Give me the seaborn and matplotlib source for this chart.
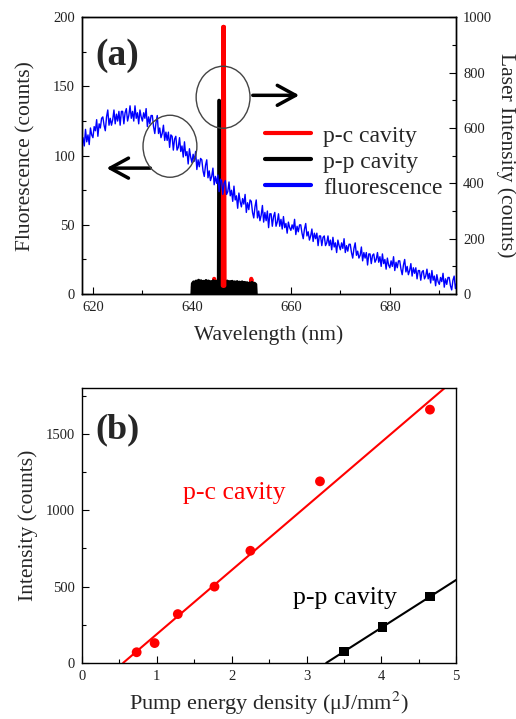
import numpy as np
import matplotlib
matplotlib.use("Agg")
import matplotlib.pyplot as plt
from matplotlib.patches import Ellipse
from matplotlib.lines import Line2D
from matplotlib.ticker import MultipleLocator
import seaborn as sns

# ---- panel (a) data ----
# fluorescence spectrum, 618.0 .. 693.5 nm in 0.25 nm steps
fl_start, fl_step = 618.0, 0.25
fl_counts = [113, 107, 119, 110, 115, 108, 120, 115,
             113, 121, 118, 126, 114, 123, 120, 127,
             128, 122, 118, 128, 133, 122, 127, 122,
             126, 133, 123, 130, 125, 132, 122, 132,
             132, 123, 131, 134, 125, 129, 136, 127,
             132, 125, 136, 127, 131, 123, 133, 128,
             125, 131, 127, 134, 121, 128, 123, 129,
             129, 121, 116, 124, 129, 116, 120, 113,
             116, 122, 111, 117, 111, 117, 106, 115,
             114, 104, 112, 114, 104, 106, 113, 103,
             107, 99, 110, 100, 103, 94, 105, 99,
             95, 101, 96, 103, 90, 97, 92, 98,
             97, 89, 85, 93, 97, 84, 89, 82,
             85, 91, 79, 85, 80, 86, 74, 83,
             82, 72, 80, 82, 72, 74, 81, 71,
             75, 67, 78, 68, 71, 62, 73, 67,
             63, 69, 65, 72, 59, 66, 61, 68,
             67, 59, 55, 63, 68, 55, 60, 53,
             57, 64, 52, 59, 53, 60, 48, 58,
             58, 49, 56, 59, 49, 52, 58, 49,
             54, 47, 56, 48, 51, 44, 52, 48,
             46, 50, 47, 54, 43, 49, 45, 50,
             50, 44, 40, 47, 51, 42, 45, 39,
             42, 47, 38, 44, 40, 44, 35, 42,
             42, 35, 41, 42, 35, 37, 42, 35,
             39, 32, 41, 34, 37, 30, 39, 35,
             32, 37, 33, 40, 30, 35, 31, 36,
             36, 30, 26, 33, 37, 28, 31, 26,
             28, 34, 24, 30, 26, 30, 21, 29,
             29, 22, 28, 29, 23, 25, 30, 23,
             27, 20, 29, 22, 25, 18, 26, 21,
             19, 24, 20, 27, 17, 23, 19, 24,
             24, 18, 14, 21, 25, 16, 20, 14,
             17, 22, 13, 19, 15, 19, 11, 17,
             17, 10, 16, 17, 11, 13, 18, 11,
             15, 8, 17, 10, 13, 6, 14, 9,
             7, 12, 9, 15, 5, 11, 7, 12,
             12, 6, 3, 10, 13, 4, 8]
fl_wl = fl_start + fl_step * np.arange(len(fl_counts))

# p-p cavity laser spectrum
pp_wl = [640.0, 640.1, 640.35, 640.6, 640.85, 641.1, 641.35, 641.6, 641.85, 642.1,
         642.35, 642.6, 642.85, 643.1, 643.35, 643.6, 643.85, 644.1, 644.35, 644.6,
         644.85, 645.1, 645.35, 645.45, 645.55, 645.65, 645.9, 646.15, 646.4, 646.65,
         646.9, 647.15, 647.4, 647.65, 647.9, 648.15, 648.4, 648.65, 648.9, 649.15,
         649.4, 649.65, 649.9, 650.15, 650.4, 650.65, 650.9, 651.15, 651.4, 651.65,
         651.9, 652.15, 652.4, 652.65, 652.9, 653.0]
pp_int = [0, 38, 44, 36, 47, 40, 50, 42, 48, 39,
          46, 41, 49, 43, 47, 38, 45, 40, 48, 42,
          46, 44, 50, 700, 700, 48, 44, 51, 43, 49,
          41, 47, 39, 45, 42, 46, 38, 44, 40, 45,
          37, 43, 39, 44, 36, 42, 38, 41, 35, 40,
          37, 42, 34, 39, 35, 0]

# p-c cavity laser spectrum
pc_wl = [640.2, 644.4, 644.5, 644.6, 646.25, 646.35, 646.45, 646.55, 651.9, 652.0, 652.1, 652.7]
pc_int = [25, 25, 55, 25, 30, 965, 965, 30, 25, 55, 25, 25]

# ---- panel (b) data ----
pc_pump = [0.73, 0.97, 1.28, 1.77, 2.25, 3.18, 4.65]
pc_out = [70, 130, 320, 500, 735, 1190, 1660]
pp_pump = [3.5, 4.02, 4.65]
pp_out = [75, 235, 435]

sns.set_theme(style="ticks")
plt.rcParams["font.family"] = ["Liberation Serif", "DejaVu Serif"]
plt.rcParams["mathtext.fontset"] = "stix"
tick_col = "#222222"

fig = plt.figure(figsize=(5.16, 7.19), dpi=100)
ax1 = fig.add_axes([0.159, 0.591, 0.725, 0.385])
ax1b = ax1.twinx()
ax2 = fig.add_axes([0.159, 0.078, 0.725, 0.382])

# fluorescence (left axis)
sns.lineplot(x=fl_wl, y=fl_counts, ax=ax1, color="#0000ff", lw=1.0)
ax1.set_zorder(ax1b.get_zorder() + 1)
ax1.patch.set_visible(False)

# laser lines (right axis): red baseline below the black block, red peak on top
sns.lineplot(x=pc_wl, y=pc_int, ax=ax1b, color="#ff0000", lw=3, zorder=1)
ax1b.fill_between(pp_wl, 0, pp_int, color="black", lw=0, zorder=2)
sns.lineplot(x=pp_wl, y=pp_int, ax=ax1b, color="black", lw=2.2, zorder=2)
sns.lineplot(x=pc_wl[4:8], y=pc_int[4:8], ax=ax1b, color="#ff0000", lw=3, zorder=3)

ax1.set_xlim(617.8, 693.4)
ax1.set_ylim(0, 200)
ax1b.set_ylim(0, 1000)
ax1.xaxis.set_major_locator(MultipleLocator(20))
ax1.xaxis.set_minor_locator(MultipleLocator(10))
ax1.yaxis.set_major_locator(MultipleLocator(50))
ax1.yaxis.set_minor_locator(MultipleLocator(25))
ax1b.yaxis.set_major_locator(MultipleLocator(200))
ax1b.yaxis.set_minor_locator(MultipleLocator(100))

ax1.set_xlabel("Wavelength (nm)", fontsize=15.5, labelpad=8)
ax1.set_ylabel("Fluorescence (counts)", fontsize=15.5, labelpad=13)
ax1b.set_ylabel("Laser Intensity (counts)", fontsize=15.5, rotation=270, labelpad=17)

ax1.text(0.035, 0.925, "(a)", transform=ax1.transAxes, fontsize=27,
         fontweight="bold", ha="left", va="top")

# circles and arrows
for cx, cy in [(0.377, 0.711), (0.235, 0.534)]:
    ax1.add_patch(Ellipse((cx, cy), 0.144, 0.224, transform=ax1.transAxes,
                          fill=False, ec="#444444", lw=1.0, zorder=5))
arrow_kw = dict(arrowstyle="->,head_length=1.1,head_width=0.6", lw=2.5, color="black")
ax1.annotate("", xy=(0.588, 0.718), xytext=(0.449, 0.718),
             xycoords="axes fraction", arrowprops=arrow_kw)
ax1.annotate("", xy=(0.058, 0.455), xytext=(0.19, 0.455),
             xycoords="axes fraction", arrowprops=arrow_kw)

handles = [Line2D([], [], color="#ff0000", lw=3),
           Line2D([], [], color="black", lw=3),
           Line2D([], [], color="#0000ff", lw=3)]
ax1.legend(handles, ["p-c cavity", "p-p cavity", "fluorescence"], loc="upper left",
           bbox_to_anchor=(0.49, 0.61), frameon=False, fontsize=17,
           handlelength=1.95, handletextpad=0.5, labelspacing=0.185, borderaxespad=0,
           borderpad=0)

# ---- panel (b) ----
pc_fit = np.polyfit(pc_pump, pc_out, 1)
pp_fit = np.polyfit(pp_pump, pp_out, 1)
pc_x = [-pc_fit[1] / pc_fit[0], 5]
pp_x = [-pp_fit[1] / pp_fit[0], 5]
sns.lineplot(x=pc_x, y=np.polyval(pc_fit, pc_x), ax=ax2, color="#ff0000", lw=1.5)
sns.lineplot(x=pp_x, y=np.polyval(pp_fit, pp_x), ax=ax2, color="black", lw=1.5)
sns.scatterplot(x=pc_pump, y=pc_out, ax=ax2, color="#ff0000", marker="o", s=50,
                edgecolor="none", zorder=3)
sns.scatterplot(x=pp_pump, y=pp_out, ax=ax2, color="black", marker="s", s=45,
                edgecolor="none", zorder=3)
ax2.set_xlim(0, 5)
ax2.set_ylim(0, 1800)
ax2.xaxis.set_major_locator(MultipleLocator(1))
ax2.xaxis.set_minor_locator(MultipleLocator(0.5))
ax2.yaxis.set_major_locator(MultipleLocator(500))
ax2.yaxis.set_minor_locator(MultipleLocator(250))
ax2.set_xlabel("Pump energy density (μJ/mm$^2$)", fontsize=16, labelpad=5)
ax2.set_ylabel("Intensity (counts)", fontsize=15.5, labelpad=6)
ax2.text(0.035, 0.91, "(b)", transform=ax2.transAxes, fontsize=26,
         fontweight="bold", ha="left", va="top")
ax2.text(2.03, 1113, "p-c cavity", color="#ff0000", fontsize=18.5, ha="center", va="center")
ax2.text(3.52, 425, "p-p cavity", color="black", fontsize=18.5, ha="center", va="center")

for ax in (ax1, ax1b, ax2):
    for s in ax.spines.values():
        s.set_visible(True)
        s.set_color("black")
        s.set_linewidth(1.0)
    ax.tick_params(which="both", direction="in", labelsize=10.5, labelcolor=tick_col,
                   color="black", width=0.8, pad=5)
    ax.tick_params(which="major", length=5)
    ax.tick_params(which="minor", length=3)
ax1.tick_params(right=False, top=False, which="both")
ax1b.tick_params(axis="y", which="both", right=True, left=False)
ax2.tick_params(right=False, top=False, which="both")

fig.savefig("out.png", dpi=100)
